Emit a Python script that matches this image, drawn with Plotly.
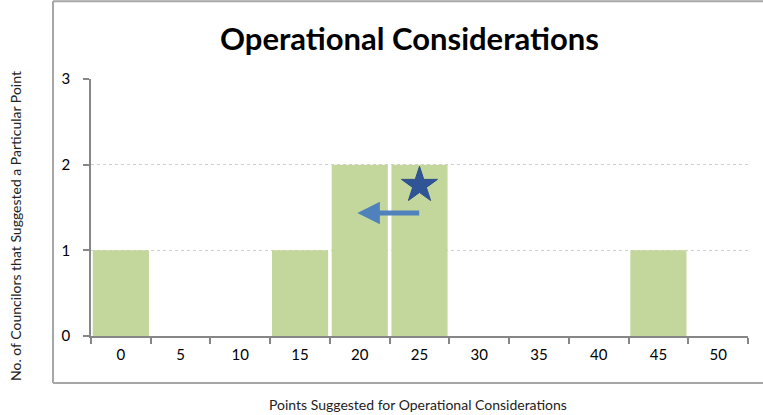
import plotly.graph_objects as go

categories = ["0", "5", "10", "15", "20", "25", "30", "35", "40", "45", "50"]
counts = [1, 0, 0, 1, 2, 2, 0, 0, 0, 1, 0]
star_x = ["25"]
star_y = [1.76]
arrow_tail_idx = 5.02
arrow_head_idx = 3.96
arrow_y = 1.435

FONT = "Lato, Carlito, Calibri, sans-serif"

fig = go.Figure()
fig.add_trace(go.Bar(
    x=categories, y=counts,
    marker=dict(color="#c3d69b", line=dict(width=0)),
    hoverinfo="x+y",
))
fig.add_trace(go.Scatter(
    x=star_x, y=star_y, mode="markers",
    marker=dict(symbol="star", size=27, color="#2f5597",
                line=dict(color="#2a4d8a", width=1)),
    hoverinfo="skip",
))

fig.add_annotation(
    x=arrow_head_idx, y=arrow_y, ax=arrow_tail_idx, ay=arrow_y,
    xref="x", yref="y", axref="x", ayref="y",
    showarrow=True, arrowhead=2, arrowsize=0.9, arrowwidth=5,
    arrowcolor="#4f81bd", text="",
)

fig.add_annotation(
    text="<b>Operational Considerations</b>", xref="paper", yref="paper",
    x=0.4855, y=1.16, showarrow=False, xanchor="center", yanchor="middle",
    font=dict(family=FONT, size=31, color="#000000"),
)
fig.add_annotation(
    text="No. of Councilors that Suggested a Particular Point",
    xref="paper", yref="paper", x=-0.1157, y=0.428, textangle=-90,
    showarrow=False, xanchor="center", yanchor="middle",
    font=dict(family=FONT, size=14, color="#222222"),
)
fig.add_annotation(
    text="Points Suggested for Operational Considerations",
    xref="paper", yref="paper", x=0.498, y=-0.268,
    showarrow=False, xanchor="center", yanchor="middle",
    font=dict(family=FONT, size=14, color="#222222"),
)

box_line = dict(color="#a6a6a6", width=2)
bx0, bx1, by0, by1 = -0.0578, 1.3, -0.183, 1.303
fig.add_shape(type="line", xref="paper", yref="paper",
              x0=bx0, x1=bx0, y0=by0, y1=by1, line=box_line, layer="below")
fig.add_shape(type="line", xref="paper", yref="paper",
              x0=bx0, x1=bx1, y0=by1, y1=by1, line=box_line, layer="below")
fig.add_shape(type="line", xref="paper", yref="paper",
              x0=bx0, x1=bx1, y0=by0, y1=by0, line=box_line, layer="below")

fig.update_layout(
    width=763, height=415,
    margin=dict(l=91, r=15, t=79, b=79),
    paper_bgcolor="white", plot_bgcolor="white",
    bargap=0.06, showlegend=False,
    font=dict(family=FONT, size=15, color="#000000"),
    xaxis=dict(
        type="category", categoryorder="array", categoryarray=categories,
        range=[-0.5, 10.5], tickson="boundaries", ticks="outside",
        ticklen=6, tickcolor="#868686", tickwidth=1.5,
        showline=True, linecolor="#868686", linewidth=1.5,
        showgrid=False, ticklabelstandoff=4,
        tickfont=dict(family=FONT, size=15, color="#000000"),
    ),
    yaxis=dict(
        range=[0, 3], tickvals=[0, 1, 2, 3], ticks="outside",
        ticklen=6, tickcolor="#868686", tickwidth=1.5,
        showline=True, linecolor="#868686", linewidth=1.5,
        showgrid=True, gridcolor="#d0d0d0", griddash="dot", gridwidth=1,
        zeroline=False, ticklabelstandoff=10,
        tickfont=dict(family=FONT, size=15, color="#000000"),
    ),
)

fig.write_html(
    "out.html",
    config={"displayModeBar": False},
    post_script="document.body.style.margin='0';document.body.style.overflow='hidden';",
)
